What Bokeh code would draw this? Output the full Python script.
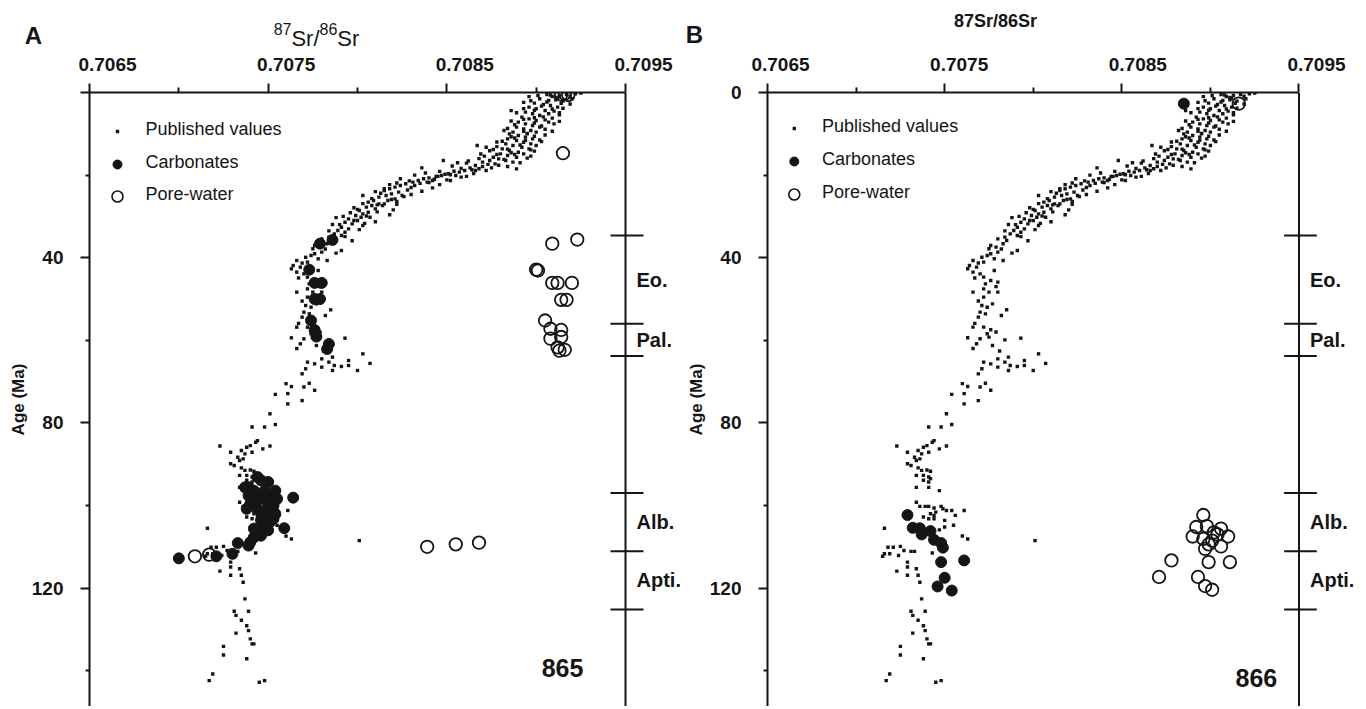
from bokeh.plotting import figure
from bokeh.models import Range1d, FixedTicker, Span
from bokeh.layouts import row, column
from bokeh.embed import file_html
from bokeh.resources import INLINE
from bokeh.core.properties import value

# ---------------- data ----------------
x_ticks = [0.7065, 0.7075, 0.7085, 0.7095]
x_minor = [0.7070, 0.7080, 0.7090]
x_tick_labels = ["0.7065", "0.7075", "0.7085", "0.7095"]
y_ticks = [0, 40, 80, 120]
y_minor = [20, 60, 100, 140]

stage_bounds = [34.6, 56.0, 63.8, 97.0, 111.1, 125.2]
stage_names = ["Eo.", "Pal.", "Alb.", "Apti."]
stage_spans = [(0, 1), (1, 2), (3, 4), (4, 5)]

legend_labels = ["Published values", "Carbonates", "Pore-water"]

# published seawater 87Sr/86Sr values (same compilation in both panels)
pub_sr = [
    0.70901, 0.70906, 0.70909, 0.70913, 0.70917, 0.70922, 0.70925, 0.70902,
    0.70907, 0.70911, 0.70915, 0.70920, 0.70899, 0.70904, 0.70908, 0.70912,
    0.70896, 0.70900, 0.70905, 0.70910, 0.70894, 0.70898, 0.70902, 0.70907,
    0.70892, 0.70896, 0.70900, 0.70905, 0.70890, 0.70894, 0.70898, 0.70902,
    0.70907, 0.70889, 0.70893, 0.70897, 0.70900, 0.70887, 0.70885, 0.70890,
    0.70894, 0.70898, 0.70884, 0.70889, 0.70893, 0.70897, 0.70883, 0.70887,
    0.70892, 0.70896, 0.70900, 0.70895, 0.70881, 0.70885, 0.70890, 0.70880,
    0.70884, 0.70889, 0.70893, 0.70879, 0.70883, 0.70887, 0.70876, 0.70874,
    0.70877, 0.70870, 0.70867, 0.70872, 0.70866, 0.70870, 0.70875, 0.70863,
    0.70860, 0.70864, 0.70857, 0.70854, 0.70851, 0.70855, 0.70868, 0.70848,
    0.70850, 0.70847, 0.70844, 0.70840, 0.70837, 0.70834, 0.70836, 0.70831,
    0.70827, 0.70832, 0.70842, 0.70824, 0.70839, 0.70824, 0.70821, 0.70818,
    0.70815, 0.70823, 0.70819, 0.70816, 0.70812, 0.70821, 0.70817, 0.70815,
    0.70825, 0.70809, 0.70806, 0.70812, 0.70808, 0.70805, 0.70803, 0.70810,
    0.70815, 0.70820, 0.70801, 0.70806, 0.70803, 0.70799, 0.70802, 0.70795,
    0.70807, 0.70800, 0.70793, 0.70797, 0.70803, 0.70791, 0.70795, 0.70786,
    0.70789, 0.70793, 0.70787, 0.70791, 0.70784, 0.70780, 0.70785, 0.70776,
    0.70783, 0.70779, 0.70791, 0.70775, 0.70780, 0.70776, 0.70774, 0.70778,
    0.70766, 0.70764, 0.70768, 0.70772, 0.70783, 0.70763, 0.70766, 0.70770,
    0.70772, 0.70776, 0.70780, 0.70773, 0.70766, 0.70772, 0.70775, 0.70780,
    0.70772, 0.70771, 0.70774, 0.70777, 0.70785, 0.70770, 0.70773, 0.70769,
    0.70766, 0.70772, 0.70776, 0.70774, 0.70763, 0.70770, 0.70775, 0.70784,
    0.70793, 0.70768, 0.70777, 0.70772, 0.70776, 0.70780, 0.70784, 0.70786,
    0.70787, 0.70791, 0.70795, 0.70800, 0.70803, 0.70769, 0.70786, 0.70780,
    0.70760, 0.70763, 0.70770, 0.70773, 0.70776, 0.70754, 0.70761, 0.70769,
    0.70761, 0.70751, 0.70741, 0.70748, 0.70754, 0.70723, 0.70729, 0.70735,
    0.70738, 0.70740, 0.70743, 0.70744, 0.70747, 0.70751, 0.70733, 0.70734,
    0.70736, 0.70737, 0.70741, 0.70729, 0.70731, 0.70735, 0.70737, 0.70740,
    0.70742, 0.70734, 0.70738, 0.70741, 0.70742, 0.70741, 0.70738, 0.70741,
    0.70747, 0.70734, 0.70734, 0.70736, 0.70739, 0.70741, 0.70744, 0.70748,
    0.70749, 0.70751, 0.70754, 0.70761, 0.70745, 0.70742, 0.70738, 0.70741,
    0.70744, 0.70744, 0.70756, 0.70750, 0.70755, 0.70716, 0.70750, 0.70747,
    0.70760, 0.70763, 0.70721, 0.70725, 0.70718, 0.70727, 0.70731, 0.70716,
    0.70719, 0.70724, 0.70715, 0.70733, 0.70743, 0.70729, 0.70729, 0.70734,
    0.70723, 0.70729, 0.70735, 0.70736, 0.70737, 0.70731, 0.70732, 0.70739,
    0.70735, 0.70738, 0.70739, 0.70732, 0.70740, 0.70741, 0.70742, 0.70725,
    0.70725, 0.70738, 0.70719, 0.70717, 0.70745, 0.70748, 0.70801,
    0.70911, 0.70897, 0.70919, 0.70903, 0.70914, 0.70893, 0.70909, 0.70889,
    0.70913, 0.70899, 0.70886, 0.70910, 0.70903, 0.70884, 0.70895, 0.70905,
    0.70888, 0.70881, 0.70902, 0.70891, 0.70878, 0.70899, 0.70886, 0.70874,
    0.70895, 0.70882, 0.70871, 0.70891, 0.70879, 0.70868, 0.70861, 0.70872,
    0.70858, 0.70865, 0.70853, 0.70846, 0.70858, 0.70843, 0.70849, 0.70838,
    0.70835, 0.70829, 0.70846, 0.70828, 0.70822, 0.70836, 0.70813, 0.70826,
    0.70819, 0.70808, 0.70814, 0.70803, 0.70822, 0.70811, 0.70798, 0.70805,
    0.70796, 0.70810, 0.70798, 0.70788, 0.70801, 0.70793, 0.70784, 0.70797,
    0.70782, 0.70788, 0.70771, 0.70769, 0.70778, 0.70767, 0.70779, 0.70769,
    0.70782, 0.70767, 0.70779, 0.70766, 0.70781, 0.70795, 0.70771, 0.70807,
    0.70908, 0.70896, 0.70912, 0.70919, 0.70893, 0.70906, 0.70915, 0.70899,
    0.70886, 0.70913, 0.70904, 0.70893, 0.70909, 0.70888, 0.70899, 0.70913,
    0.70905, 0.70893, 0.70882, 0.70909, 0.70899, 0.70886, 0.70903, 0.70878,
    0.70894, 0.70884, 0.70897, 0.70876, 0.70888, 0.70869, 0.70897, 0.70878,
    0.70884, 0.70873, 0.70862, 0.70889, 0.70866, 0.70856, 0.70852, 0.70861,
    0.70845, 0.70832, 0.70840, 0.70852, 0.70830, 0.70818, 0.70842, 0.70810,
    0.70830, 0.70822, 0.70811, 0.70818, 0.70800, 0.70792, 0.70804, 0.70790,
]
pub_age = [
    0.73, 0.48, 0.97, 0.73, 0.48, 0.32, 0.16, 1.53,
    1.94, 1.77, 2.10, 1.53, 2.58, 2.90, 3.15, 3.55,
    3.55, 3.95, 4.36, 4.52, 4.76, 5.16, 5.57, 5.16,
    5.97, 6.38, 6.78, 6.62, 7.18, 7.59, 7.99, 8.39,
    7.18, 8.39, 8.80, 9.20, 9.60, 9.60, 10.01, 10.41,
    10.81, 11.22, 11.22, 11.62, 12.03, 12.43, 12.43, 12.83,
    13.24, 13.64, 12.83, 10.01, 13.64, 14.04, 14.45, 14.85,
    15.25, 15.66, 14.85, 16.06, 16.46, 16.87, 15.66, 16.46,
    17.27, 16.87, 12.83, 13.24, 17.67, 17.92, 18.24, 18.24,
    18.89, 18.72, 19.29, 19.05, 19.69, 20.10, 18.48, 16.46,
    21.15, 20.10, 20.34, 20.66, 20.90, 21.31, 18.24, 21.71,
    22.11, 22.52, 21.31, 22.52, 21.71, 20.90, 22.92, 23.32,
    23.73, 24.13, 24.54, 24.94, 25.34, 25.75, 26.15, 23.32,
    24.94, 26.15, 26.55, 26.96, 27.36, 27.76, 24.94, 28.17,
    26.96, 28.41, 28.57, 28.98, 29.38, 29.78, 30.19, 30.59,
    30.19, 30.99, 31.40, 31.80, 32.20, 32.61, 33.01, 31.96,
    33.41, 33.82, 34.22, 34.62, 35.03, 35.43, 35.83, 37.05,
    36.64, 37.45, 38.26, 37.85, 38.66, 39.06, 39.47, 40.27,
    40.68, 41.89, 42.29, 41.08, 40.68, 42.69, 43.50, 43.91,
    44.71, 45.52, 45.92, 46.33, 48.34, 47.54, 48.34, 48.34,
    49.55, 51.57, 51.98, 51.17, 52.62, 53.19, 53.59, 54.40,
    56.82, 56.82, 57.46, 58.43, 59.40, 59.64, 59.24, 59.89,
    59.48, 60.85, 61.26, 65.29, 65.70, 64.49, 65.29, 64.08,
    66.10, 66.34, 66.10, 67.31, 63.28, 68.12, 67.31, 66.50,
    70.5, 71.2, 71.3, 70.4, 72.1, 73.1, 72.9, 74.6,
    75.4, 77.8, 81.0, 81.0, 80.4, 85.6, 87.1, 86.7,
    85.9, 85.5, 84.7, 84.3, 86.3, 85.6, 88.3, 89.1,
    88.7, 87.5, 87.1, 89.9, 90.3, 90.9, 91.5, 91.4,
    91.7, 92.7, 92.7, 93.1, 93.5, 94.3, 93.9, 95.6,
    96.4, 95.6, 99.2, 100.2, 100.2, 100.2, 100.6, 100.2,
    100.8, 101.2, 101.2, 101.2, 101.6, 102.0, 102.8, 103.2,
    103.2, 102.4, 102.4, 103.6, 104.8, 105.5, 105.2, 105.9,
    107.4, 108.1, 110.1, 109.9, 110.1, 110.9, 111.1, 111.7,
    111.7, 112.1, 112.3, 111.1, 111.5, 113.7, 114.9, 115.3,
    115.9, 116.9, 116.9, 118.6, 122.6, 125.6, 126.6, 125.6,
    127.8, 129.1, 130.3, 130.9, 132.3, 133.5, 133.5, 134.1,
    136.2, 137.1, 140.8, 142.4, 142.8, 142.4, 108.5,
    1.2, 2.0, 0.9, 3.3, 2.6, 3.9, 4.0, 4.9,
    5.4, 6.1, 6.9, 7.6, 8.1, 8.7, 9.9, 10.3,
    11.0, 11.8, 11.5, 12.7, 13.1, 14.2, 14.6, 14.1,
    15.9, 16.2, 15.4, 17.0, 17.6, 16.0, 17.1, 18.9,
    18.4, 19.6, 17.8, 19.1, 20.5, 21.0, 19.8, 19.5,
    22.0, 21.4, 22.3, 23.6, 21.9, 23.9, 24.4, 25.2,
    25.9, 25.7, 27.4, 26.9, 27.1, 28.9, 27.9, 29.9,
    29.1, 31.3, 31.0, 30.3, 33.2, 34.9, 33.5, 35.9,
    37.9, 38.9, 39.9, 41.3, 43.1, 44.9, 47.0, 50.5,
    54.0, 55.9, 58.0, 62.0, 62.6, 64.9, 66.9, 65.6,
    0.6, 1.0, 1.4, 2.8, 2.4, 2.3, 3.8, 4.3,
    4.4, 4.9, 5.9, 6.5, 6.2, 7.8, 7.4, 7.0,
    8.9, 9.4, 9.2, 9.4, 10.6, 10.7, 11.9, 12.0,
    11.6, 13.7, 13.9, 13.8, 15.0, 14.9, 15.4, 15.0,
    17.9, 17.4, 16.6, 18.5, 18.9, 17.0, 19.9, 20.3,
    20.3, 20.0, 21.8, 21.3, 23.0, 22.3, 23.1, 24.0,
    24.7, 26.4, 27.2, 29.6, 28.3, 30.0, 31.7, 32.0,
]

# Site 865 (panel A)
carb_a_sr = [
    0.70779, 0.70786, 0.70773, 0.70776, 0.70780, 0.70776, 0.70779, 0.70774,
    0.70776, 0.70777, 0.70784, 0.70783,
    0.70744, 0.70746, 0.70739, 0.70750, 0.70742, 0.70748, 0.70752, 0.70746,
    0.70740, 0.70750, 0.70753, 0.70744, 0.70748, 0.70752, 0.70749, 0.70746,
    0.70751, 0.70748, 0.70745, 0.70742, 0.70740, 0.70739, 0.70746, 0.70750,
    0.70737, 0.70754, 0.70739, 0.70755, 0.70744, 0.70738, 0.70754, 0.70747,
    0.70753, 0.70742,
    0.70764, 0.70759, 0.70733, 0.70730, 0.70721, 0.70700,
]
carb_a_age = [
    36.6, 35.7, 42.9, 46.1, 46.1, 50.0, 50.0, 55.2,
    57.5, 59.1, 60.9, 62.1,
    93.1, 93.9, 95.6, 94.3, 96.4, 96.4, 98.0, 98.0,
    99.6, 99.6, 100.0, 100.8, 101.6, 102.0, 102.8, 103.6,
    104.0, 105.2, 106.4, 107.7, 108.9, 109.7, 107.3, 106.0,
    95.6, 96.4, 97.6, 98.4, 98.8, 100.8, 102.0, 104.8,
    103.2, 105.6,
    98.1, 105.5, 109.1, 111.7, 112.3, 112.8,
]
pore_a_sr = [
    0.70914, 0.70916, 0.70918, 0.70915, 0.70909, 0.70923, 0.70900, 0.70901,
    0.70909, 0.70912, 0.70920, 0.70914, 0.70917, 0.70905, 0.70908, 0.70914,
    0.70908, 0.70914, 0.70912, 0.70916, 0.70913,
    0.70709, 0.70717, 0.70839, 0.70855, 0.70868,
]
pore_a_age = [
    0.5, 0.3, 0.6, 14.7, 36.6, 35.6, 42.9, 43.1,
    46.1, 46.1, 46.1, 50.2, 50.2, 55.2, 57.2, 57.5,
    59.6, 59.2, 61.7, 62.3, 62.5,
    112.3, 111.9, 110.0, 109.4, 109.0,
]

# Site 866 (panel B)
carb_b_sr = [
    0.70885, 0.70729, 0.70732, 0.70736, 0.70737, 0.70742, 0.70744, 0.70748,
    0.70749, 0.70748, 0.70761, 0.70750, 0.70746, 0.70754,
]
carb_b_age = [
    2.7, 102.3, 105.4, 105.5, 107.0, 106.2, 108.3, 109.1,
    110.2, 113.7, 113.3, 117.5, 119.6, 120.6,
]
pore_b_sr = [
    0.70916, 0.70896, 0.70892, 0.70898, 0.70906, 0.70902, 0.70890, 0.70910,
    0.70896, 0.70901, 0.70906, 0.70897, 0.70899, 0.70911, 0.70878, 0.70871,
    0.70893, 0.70897, 0.70901, 0.70904, 0.70899,
]
pore_b_age = [
    2.7, 102.3, 105.2, 105.0, 105.6, 106.5, 107.5, 107.5,
    108.1, 108.5, 109.9, 110.5, 113.7, 113.7, 113.3, 117.3,
    117.3, 119.5, 120.4, 107.0, 109.4,
]

# ---------------- layout ----------------
FONT = "Liberation Sans"
INK = "#151515"
HEAD_H = 80             # header strip (titles, tick labels)
FRAME_TOP = 92          # page y of the top axis
MAIN_H = 626
PX_PER_MA = 4.13
PX_PER_UNIT = 536 / 0.003
FRAME_W = 594
AGE_MAX = (HEAD_H + MAIN_H - FRAME_TOP) / PX_PER_MA
X0 = x_ticks[0]
X_RIGHT = x_ticks[-1]

# approximate Arial advance widths (em) for composing the superscript title
ADV = {"8": 0.556, "7": 0.556, "6": 0.556, "S": 0.667, "r": 0.333, "/": 0.278}


def text_w(s, size):
    return sum(ADV[c] for c in s) * size


def no_align(fig):
    try:
        fig.frame_align = False
    except AttributeError:
        pass


def style_axis(ax):
    ax.axis_line_width = 2
    ax.axis_line_color = INK
    ax.major_tick_line_width = 2
    ax.minor_tick_line_width = 2
    ax.major_tick_line_color = INK
    ax.minor_tick_line_color = INK
    ax.major_tick_in = 0
    ax.minor_tick_in = 0
    ax.major_tick_out = 9


def make_panel(fig_left, frame_left, site, carb_sr, carb_age, pore_sr, pore_age,
               letter, legend_pos, site_pos, show_zero, title_kind):
    width = frame_left - fig_left + FRAME_W

    def sx(X):
        return X0 + (X - frame_left) / PX_PER_UNIT

    def sy(Y):
        return (Y - FRAME_TOP) / PX_PER_MA

    # ---- header strip: panel letter, axis title and tick labels ----
    h = figure(width=width, height=HEAD_H, output_backend="svg", toolbar_location=None,
               title=None, x_axis_location=None, y_axis_location=None,
               x_range=Range1d(sx(fig_left), sx(fig_left + width)),
               y_range=Range1d(sy(HEAD_H), sy(0)), min_border=0)
    no_align(h)
    h.grid.visible = False
    h.outline_line_color = None
    h.background_fill_color = "white"
    h.border_fill_color = "white"

    h.text(x=x_ticks, y=[sy(64)] * len(x_ticks), text=x_tick_labels, x_offset=18,
           text_font=value(FONT), text_font_style="bold", text_font_size="19px",
           text_color=INK, text_align="center", text_baseline="middle")
    h.text(x=[sx(letter[1])], y=[sy(letter[2])], text=[letter[0]],
           text_font=value(FONT), text_font_style="bold", text_font_size="24px",
           text_color=INK, text_align="center", text_baseline="middle")
    if title_kind == "super":
        big, small = 22, 16
        parts = [("87", small, 28), ("Sr/", big, 38), ("86", small, 28), ("Sr", big, 38)]
        total = sum(text_w(s, sz) for s, sz, _ in parts)
        cur = 316 - total / 2
        for s, sz, base in parts:
            h.text(x=[sx(cur)], y=[sy(base)], text=[s], text_font=value(FONT),
                   text_font_size=f"{sz}px", text_color=INK,
                   text_align="left", text_baseline="alphabetic")
            cur += text_w(s, sz)
    else:
        h.text(x=[sx(995)], y=[sy(20)], text=["87Sr/86Sr"], text_font=value(FONT),
               text_font_style="bold", text_font_size="18px", text_color=INK,
               text_align="center", text_baseline="middle")

    # ---- main plot ----
    p = figure(width=width, height=MAIN_H, output_backend="svg", toolbar_location=None,
               title=None,
               x_range=Range1d(X0, X0 + FRAME_W / PX_PER_UNIT),
               y_range=Range1d(AGE_MAX, 0),
               x_axis_location="above",
               min_border_left=frame_left - fig_left, min_border_right=0,
               min_border_top=FRAME_TOP - HEAD_H, min_border_bottom=0)
    no_align(p)
    p.outline_line_color = None
    p.grid.visible = False
    p.background_fill_color = "white"
    p.border_fill_color = "white"

    xa = p.xaxis[0]
    style_axis(xa)
    xa.ticker = FixedTicker(ticks=x_ticks, minor_ticks=x_minor)
    xa.bounds = (x_ticks[0], x_ticks[-1])
    xa.major_label_overrides = {t: "" for t in x_ticks}
    xa.major_label_text_font_size = "0px"
    xa.major_label_standoff = 0
    xa.minor_tick_out = 5

    ya = p.yaxis[0]
    style_axis(ya)
    ya.ticker = FixedTicker(ticks=y_ticks, minor_ticks=y_minor)
    if not show_zero:
        ya.major_label_overrides = {0: ""}
    ya.minor_tick_out = 4
    ya.major_label_standoff = 17
    ya.major_label_text_font = FONT
    ya.major_label_text_font_style = "bold"
    ya.major_label_text_font_size = "19px"
    ya.major_label_text_color = INK
    ya.axis_label = "Age (Ma)"
    ya.axis_label_text_font = FONT
    ya.axis_label_text_font_style = "bold"
    ya.axis_label_text_font_size = "17px"
    ya.axis_label_text_color = INK
    ya.axis_label_standoff = 1

    # right boundary line and stage scale
    p.add_layout(Span(location=X_RIGHT, dimension="height", line_color=INK, line_width=2))
    p.segment(x0=[X_RIGHT - 15 / PX_PER_UNIT] * len(stage_bounds),
              x1=[X_RIGHT + 18 / PX_PER_UNIT] * len(stage_bounds),
              y0=stage_bounds, y1=stage_bounds, line_color=INK, line_width=2)
    mids = [(stage_bounds[a] + stage_bounds[b]) / 2 for a, b in stage_spans]
    p.text(x=[X_RIGHT] * len(stage_names), y=mids, text=stage_names, x_offset=11,
           text_font=value(FONT), text_font_style="bold", text_font_size="20px",
           text_color=INK, text_align="left", text_baseline="middle")

    # data
    p.scatter(pub_sr, pub_age, marker="square", size=3.4, color=INK, line_width=0)
    p.scatter(carb_sr, carb_age, marker="circle", size=11, fill_color=INK, line_color=INK)
    p.scatter(pore_sr, pore_age, marker="circle", size=12.5, fill_color=None,
              line_color=INK, line_width=1.8)

    # legend (marker sizes differ, so it is drawn by hand)
    mx, tx, ys, my = legend_pos
    p.scatter([sx(mx)], [sy(ys[0] + my)], marker="square", size=3.4, color=INK,
              line_width=0)
    p.scatter([sx(mx)], [sy(ys[1] + my)], marker="circle", size=9, fill_color=INK,
              line_color=INK)
    p.scatter([sx(mx)], [sy(ys[2] + my)], marker="circle", size=11, fill_color=None,
              line_color=INK, line_width=1.6)
    p.text(x=[sx(tx)] * 3, y=[sy(v) for v in ys], text=legend_labels,
           text_font=value(FONT), text_font_size="18px", text_color=INK,
           text_align="left", text_baseline="middle")

    # site number
    p.text(x=[sx(site_pos[0])], y=[sy(site_pos[1])], text=[site], text_font=value(FONT),
           text_font_style="bold", text_font_size="25px", text_color=INK,
           text_align="center", text_baseline="middle")
    return column(h, p)


colA = make_panel(0, 89, "865", carb_a_sr, carb_a_age, pore_a_sr, pore_a_age,
                  ("A", 33, 35), (117, 145, [128, 161, 193], 3), (562, 667),
                  False, "super")
colB = make_panel(683, 762, "866", carb_b_sr, carb_b_age, pore_b_sr, pore_b_age,
                  ("B", 694, 34), (789, 817, [125, 158, 191], 3), (1255, 677),
                  True, "plain")

layout = row(colA, colB)
open("out.html", "w").write(file_html(layout, INLINE))
